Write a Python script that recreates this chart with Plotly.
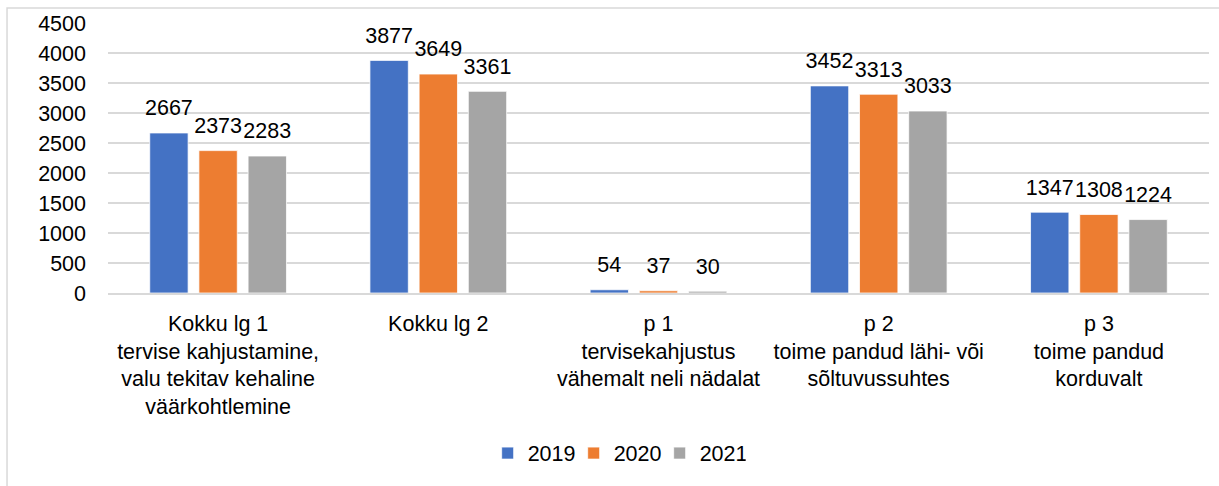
import plotly.graph_objects as go

categories = [
    "Kokku lg 1<br>tervise kahjustamine,<br>valu tekitav kehaline<br>väärkohtlemine",
    "Kokku lg 2",
    "p 1<br>tervisekahjustus<br>vähemalt neli nädalat",
    "p 2<br>toime pandud lähi- või<br>sõltuvussuhtes",
    "p 3<br>toime pandud<br>korduvalt",
]
years = ["2019", "2020", "2021"]
values_2019 = [2667, 3877, 54, 3452, 1347]
values_2020 = [2373, 3649, 37, 3313, 1308]
values_2021 = [2283, 3361, 30, 3033, 1224]
y_ticks = [0, 500, 1000, 1500, 2000, 2500, 3000, 3500, 4000, 4500]

colors = ["#4472C4", "#ED7D31", "#A5A5A5"]
FONT = "Liberation Sans"
SIZE = 21.5

xpos = list(range(len(categories)))
series = [values_2019, values_2020, values_2021]

fig = go.Figure()
for i, (name, vals, col) in enumerate(zip(years, series, colors)):
    fig.add_trace(
        go.Bar(
            name=name,
            x=xpos,
            y=vals,
            offsetgroup=str(i),
            marker=dict(color=col, line=dict(color="white", width=0.75)),
            hoverinfo="skip",
        )
    )
for i, (name, vals) in enumerate(zip(years, series)):
    fig.add_trace(
        go.Scatter(
            name=name,
            x=xpos,
            y=vals,
            offsetgroup=str(i),
            mode="markers+text",
            marker=dict(size=18, color="rgba(0,0,0,0)"),
            text=[str(v) for v in vals],
            textposition="top center",
            textfont=dict(size=SIZE, color="#000000", family=FONT),
            showlegend=False,
            cliponaxis=False,
            hoverinfo="skip",
        )
    )

fig.update_layout(
    width=1219,
    height=486,
    margin=dict(l=108, r=10, t=23, b=193),
    paper_bgcolor="white",
    plot_bgcolor="white",
    barmode="group",
    bargap=0.33,
    bargroupgap=0.22,
    scattermode="group",
    scattergap=0.33,
    font=dict(family=FONT, size=SIZE, color="#000000"),
    showlegend=True,
    legend=dict(
        orientation="h",
        x=0.462,
        xanchor="center",
        y=-0.593,
        yanchor="middle",
        font=dict(size=SIZE),
        traceorder="normal",
        entrywidth=41,
        entrywidthmode="pixels",
    ),
    xaxis=dict(
        tickmode="array",
        tickvals=xpos,
        ticktext=categories,
        tickfont=dict(size=SIZE, family=FONT),
        range=[-0.5, len(categories) - 0.5],
        showline=True,
        linecolor="#D9D9D9",
        linewidth=1.5,
        showgrid=False,
        ticks="",
        ticklabelstandoff=10,
    ),
    yaxis=dict(
        range=[0, 4500],
        tickmode="array",
        tickvals=y_ticks,
        tickfont=dict(size=SIZE, family=FONT),
        showgrid=True,
        gridcolor="#D9D9D9",
        gridwidth=1.5,
        zeroline=False,
        showline=False,
        ticks="",
        ticklabelstandoff=21,
    ),
    shapes=[
        dict(
            type="rect",
            xref="paper",
            yref="paper",
            x0=-0.0917,
            x1=1.05,
            y0=-0.8,
            y1=1.0556,
            line=dict(color="#D9D9D9", width=1.5),
            fillcolor="rgba(0,0,0,0)",
            layer="below",
        )
    ],
)

fig.write_html(
    "out.html",
    config={"displayModeBar": False},
    post_script="document.body.style.margin='0';document.body.style.overflow='hidden';",
)
